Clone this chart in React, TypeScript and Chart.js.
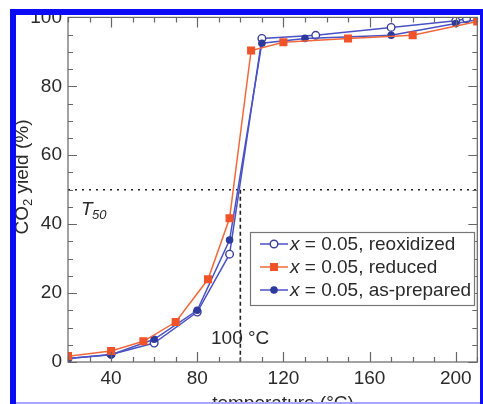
import React, { useEffect, useRef } from 'react';
import { Chart, registerables } from 'chart.js';

Chart.register(...registerables);

// ---- data ----
const reoxTemps = [20, 40, 60, 80, 95, 110, 135, 170, 200, 205];
const reoxYield = [1, 2.2, 5.5, 14.5, 31.3, 93.9, 94.8, 97.1, 99.0, 99.6];

const reducedTemps = [20, 40, 55, 70, 85, 95, 105, 120, 150, 180, 210];
const reducedYield = [1.7, 3.2, 6.0, 11.6, 24.0, 41.7, 90.4, 92.8, 93.9, 94.8, 98.8];

const preparedTemps = [20, 40, 60, 80, 95, 110, 130, 170, 200, 210];
const preparedYield = [1.0, 2.1, 6.6, 15.0, 35.4, 92.5, 93.9, 94.8, 98.2, 99.3];

const seriesLabels = ['x = 0.05, reoxidized', 'x = 0.05, reduced', 'x = 0.05, as-prepared'];
const xTickLabels = [40, 80, 120, 160, 200];
const yTickLabels = [0, 20, 40, 60, 80, 100];
const t50Yield = 50;
const t50Temp = 100;

const FONT = '"Liberation Sans", Arial, Helvetica, sans-serif';
const BLUE_LINE = '#4a52c4';
const BLUE_DOT = '#2c3a9e';
const RED_LINE = '#f2683a';
const RED_DOT = '#f0522a';
const TEXT = '#2a2a2a';

const legendStyles = [
  { line: BLUE_LINE, marker: 'openCircle', color: '#3a3f9a' },
  { line: RED_LINE, marker: 'square', color: RED_DOT },
  { line: BLUE_LINE, marker: 'circle', color: BLUE_DOT },
];

function drawMarker(ctx: CanvasRenderingContext2D, kind: string, x: number, y: number, color: string) {
  ctx.save();
  ctx.setLineDash([]);
  if (kind === 'square') {
    ctx.fillStyle = color;
    ctx.fillRect(x - 4, y - 4, 8, 8);
  } else {
    ctx.beginPath();
    ctx.arc(x, y, 3.8, 0, Math.PI * 2);
    if (kind === 'openCircle') {
      ctx.fillStyle = '#fff';
      ctx.fill();
      ctx.lineWidth = 1.4;
      ctx.strokeStyle = color;
      ctx.stroke();
    } else {
      ctx.fillStyle = color;
      ctx.fill();
    }
  }
  ctx.restore();
}

const decor = {
  id: 'decor',
  beforeDatasetsDraw(chart: any) {
    const { ctx, chartArea: a, scales } = chart;
    const x = scales.x;
    const y = scales.y;
    ctx.save();
    ctx.strokeStyle = '#222';
    ctx.lineWidth = 1.6;
    const y50 = y.getPixelForValue(t50Yield);
    ctx.setLineDash([2, 5]);
    ctx.beginPath();
    ctx.moveTo(a.left, y50);
    ctx.lineTo(a.right, y50);
    ctx.stroke();
    const x100 = x.getPixelForValue(t50Temp);
    ctx.setLineDash([4, 3]);
    ctx.beginPath();
    ctx.moveTo(x100, y50);
    ctx.lineTo(x100, a.bottom);
    ctx.stroke();
    ctx.restore();
  },
  afterDraw(chart: any) {
    const { ctx, chartArea: a, scales } = chart;
    const x = scales.x;
    const y = scales.y;
    ctx.save();
    // frame
    ctx.strokeStyle = '#666';
    ctx.lineWidth = 1.2;
    ctx.strokeRect(a.left, a.top, a.right - a.left, a.bottom - a.top);
    // inward ticks
    ctx.beginPath();
    for (const t of x.ticks) {
      const px = Math.round(x.getPixelForValue(t.value)) + 0.5;
      const len = t.value % 40 === 0 ? 10 : 5;
      ctx.moveTo(px, a.bottom);
      ctx.lineTo(px, a.bottom - len);
      ctx.moveTo(px, a.top);
      ctx.lineTo(px, a.top + len);
    }
    for (const t of y.ticks) {
      const py = Math.round(y.getPixelForValue(t.value)) + 0.5;
      const len = t.value % 20 === 0 ? 9 : 5;
      ctx.moveTo(a.left, py);
      ctx.lineTo(a.left + len, py);
      ctx.moveTo(a.right, py);
      ctx.lineTo(a.right - len, py);
    }
    ctx.stroke();

    // annotations
    ctx.fillStyle = TEXT;
    ctx.textBaseline = 'alphabetic';
    ctx.textAlign = 'left';
    ctx.font = `italic 19px ${FONT}`;
    ctx.fillText('T', 81, 215);
    ctx.font = `italic 13px ${FONT}`;
    ctx.fillText('50', 92, 219);
    ctx.font = `19px ${FONT}`;
    ctx.fillText('100 °C', 211, 344);

    // axis titles
    ctx.font = `19px ${FONT}`;
    ctx.textAlign = 'center';
    ctx.fillText('temperature (°C)', 283, 409);

    ctx.save();
    ctx.translate(28, 177);
    ctx.rotate(-Math.PI / 2);
    ctx.textAlign = 'left';
    ctx.font = `19px ${FONT}`;
    const w1 = ctx.measureText('CO').width;
    const w3 = ctx.measureText(' yield (%)').width;
    ctx.font = `13px ${FONT}`;
    const w2 = ctx.measureText('2').width;
    const total = w1 + w2 + w3;
    let cx = -total / 2;
    ctx.font = `19px ${FONT}`;
    ctx.fillText('CO', cx, 0);
    cx += w1;
    ctx.font = `13px ${FONT}`;
    ctx.fillText('2', cx, 4);
    cx += w2;
    ctx.font = `19px ${FONT}`;
    ctx.fillText(' yield (%)', cx, 0);
    ctx.restore();

    // legend
    const lx = 250, ly = 232, lw = 224, lh = 73;
    ctx.fillStyle = '#fff';
    ctx.fillRect(lx, ly, lw, lh);
    ctx.strokeStyle = '#777';
    ctx.lineWidth = 1.2;
    ctx.setLineDash([]);
    ctx.strokeRect(lx + 0.5, ly + 0.5, lw, lh);
    seriesLabels.forEach((label, i) => {
      const st = legendStyles[i];
      const ry = 244 + i * 23;
      ctx.strokeStyle = st.line;
      ctx.lineWidth = 1.5;
      ctx.beginPath();
      ctx.moveTo(260, ry);
      ctx.lineTo(288, ry);
      ctx.stroke();
      drawMarker(ctx, st.marker, 274, ry, st.color);
      ctx.fillStyle = TEXT;
      ctx.textAlign = 'left';
      ctx.textBaseline = 'middle';
      ctx.font = `italic 19px ${FONT}`;
      ctx.fillText(label[0], 290, ry + 1);
      const wx = ctx.measureText(label[0]).width;
      ctx.font = `19px ${FONT}`;
      ctx.fillText(label.slice(1), 290 + wx, ry + 1);
    });

    // blue frame of the cropped figure
    ctx.fillStyle = '#fff';
    ctx.fillRect(0, 0, 483, 9);
    ctx.fillRect(0, 0, 10, 404);
    ctx.fillStyle = '#0b0bf5';
    ctx.fillRect(10, 9, 473, 6);
    ctx.fillRect(10, 9, 6, 395);
    ctx.fillRect(480, 9, 3, 395);
    ctx.fillStyle = '#a8a8ff';
    ctx.fillRect(16, 402, 464, 2);
    ctx.restore();
  },
};

export default function App() {
  const ref = useRef<HTMLCanvasElement | null>(null);
  useEffect(() => {
    document.body.style.margin = '0';
    const canvas = ref.current;
    if (!canvas) return;
    const mk = (t: number[], v: number[]) => t.map((tt, i) => ({ x: tt, y: v[i] }));
    const chart = new Chart(canvas, {
      type: 'line',
      data: {
        datasets: [
          {
            label: seriesLabels[0],
            data: mk(reoxTemps, reoxYield),
            borderColor: BLUE_LINE,
            borderWidth: 1.5,
            pointStyle: 'circle',
            pointRadius: 3.8,
            pointBorderWidth: 1.4,
            pointBorderColor: '#3a3f9a',
            pointBackgroundColor: '#fff',
            order: 2,
          },
          {
            label: seriesLabels[1],
            data: mk(reducedTemps, reducedYield),
            borderColor: RED_LINE,
            borderWidth: 1.5,
            pointStyle: 'rect',
            pointRadius: 5.7,
            pointBorderWidth: 0,
            pointBackgroundColor: RED_DOT,
            pointBorderColor: RED_DOT,
            order: 0,
          },
          {
            label: seriesLabels[2],
            data: mk(preparedTemps, preparedYield),
            borderColor: BLUE_LINE,
            borderWidth: 1.5,
            pointStyle: 'circle',
            pointRadius: 3.8,
            pointBorderWidth: 0,
            pointBackgroundColor: BLUE_DOT,
            pointBorderColor: BLUE_DOT,
            order: 1,
          },
        ],
      },
      options: {
        responsive: false,
        animation: false,
        layout: { padding: { top: 17, right: 1, left: 0, bottom: 0 } },
        plugins: { legend: { display: false }, tooltip: { enabled: false } },
        scales: {
          x: {
            type: 'linear',
            min: 20,
            max: 210,
            grid: { display: false, drawTicks: false },
            border: { display: false },
            ticks: {
              stepSize: 10,
              autoSkip: false,
              maxRotation: 0,
              padding: 5,
              color: TEXT,
              font: { family: FONT, size: 19 },
              callback: (v: any) => (xTickLabels.includes(Number(v)) ? String(v) : ''),
            },
            afterFit: (s: any) => {
              s.height = 42;
            },
          },
          y: {
            type: 'linear',
            min: 0,
            max: 100,
            grid: { display: false, drawTicks: false },
            border: { display: false },
            ticks: {
              stepSize: 5,
              autoSkip: false,
              padding: 6,
              color: TEXT,
              font: { family: FONT, size: 19 },
              callback: (v: any) => (yTickLabels.includes(Number(v)) ? String(v) : ''),
            },
            afterFit: (s: any) => {
              s.width = 68;
            },
          },
        },
      },
      plugins: [decor],
    });
    return () => chart.destroy();
  }, []);
  return (
    <div style={{ width: 483, height: 404, background: '#fff' }}>
      <canvas ref={ref} width={483} height={404} style={{ display: 'block' }} />
    </div>
  );
}
